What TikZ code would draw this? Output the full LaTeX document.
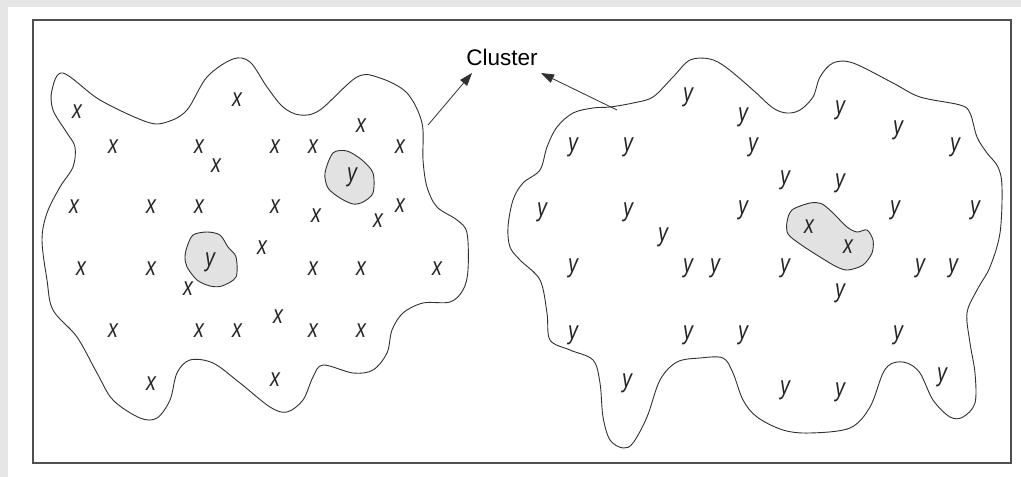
\documentclass[tikz,border=0pt]{standalone}
\usepackage{fontspec}
\setmainfont{Liberation Sans}
\newfontfamily\markfont[FakeStretch=0.76]{Liberation Sans}
\usetikzlibrary{arrows.meta}
\definecolor{pagegray}{HTML}{E6E6E6}
\definecolor{framegray}{HTML}{505050}
\definecolor{inkgray}{HTML}{303030}
\definecolor{blobfill}{HTML}{E2E2E2}
\tikzset{
  outline/.style={draw=inkgray, line width=0.9pt},
  island/.style={draw=inkgray, line width=0.9pt, fill=blobfill},
  member/.style={inner sep=0pt, text=black!85, font=\markfont\itshape\fontsize{26}{26}\selectfont},
  label/.style={inner sep=0pt, font=\fontsize{22.5}{22.5}\selectfont},
  pointer/.style={draw=inkgray, line width=0.8pt, -{Triangle[length=13pt,width=9pt]}}
}
\begin{document}
\begin{tikzpicture}[x=1pt,y=-1pt]
\useasboundingbox (0,0) rectangle (1021,477);
% page background and frame
\fill[pagegray] (0,0) rectangle (1021,477);
\fill[white] (8,7) rectangle (1021,477);
\draw[framegray, line width=2pt] (33,20) rectangle (1011,463);

% left cluster
\draw[outline] plot[smooth cycle, tension=0.55] coordinates {
 (52,90) (63,73) (100,100) (147,122) (167,122) (187,110) (207,77) (233,59)
 (250,62) (267,87) (283,107) (300,115) (320,110) (357,77) (380,78) (407,93)
 (422,123) (423,160) (427,187) (437,207) (457,220) (467,233) (468,270)
 (463,290) (450,302) (423,303) (403,313) (392,330) (387,353) (373,370)
 (353,373) (323,365) (313,377) (303,400) (287,412) (270,407) (240,383)
 (213,363) (190,360) (177,373) (170,400) (157,418) (140,418) (113,400)
 (97,373) (77,337) (53,310) (47,280) (42,240) (47,213) (60,187) (73,167)
 (75,147) (67,133) (53,110)};

% islands inside the left cluster
\draw[island] plot[smooth cycle, tension=0.5] coordinates {
 (325,173) (333,153) (347,151) (362,160) (373,173) (373,193) (363,202)
 (353,204) (340,198) (328,188)};
\draw[island] plot[smooth cycle, tension=0.5] coordinates {
 (187,247) (193,235) (207,232) (220,235) (228,247) (236,257) (236,277)
 (222,286) (210,286) (197,280) (187,267) (185,257)};

% right cluster
\draw[outline] plot[smooth cycle, tension=0.55] coordinates {
 (593,108) (610,107) (633,103) (653,97) (673,77) (690,60) (710,59) (727,68)
 (753,90) (773,108) (787,113) (800,110) (813,97) (820,77) (833,63) (853,63)
 (893,83) (920,97) (960,105) (970,113) (977,137) (987,153) (998,167)
 (1002,187) (1000,233) (990,267) (977,290) (967,313) (970,343) (975,373)
 (975,403) (963,417) (950,417) (933,400) (920,373) (907,363) (893,363)
 (883,373) (870,407) (850,428) (810,433) (783,430) (757,417) (743,400)
 (733,373) (723,358) (700,358) (677,362) (660,380) (647,417) (633,443)
 (623,448) (610,440) (603,417) (600,383) (593,360) (570,350) (550,340)
 (547,313) (540,280) (520,260) (510,247) (508,227) (513,200) (523,183)
 (540,170) (547,147) (557,127) (573,113)};

% island inside the right cluster
\draw[island] plot[smooth cycle, tension=0.5] coordinates {
 (787,222) (792,210) (810,203) (822,204) (833,213) (847,227) (857,232)
 (867,230) (873,240) (872,253) (863,265) (848,270) (837,267) (820,257)
 (800,244) (788,234)};

% members of the left cluster
\foreach \p [count=\i] in {(77,112),(237,100),(113,147),(199,147),(216,166),
  (275,147),(313,147),(361,126),(400,147),(74,207),(151,207),(199,207),
  (275,207),(316,216),(378,221),(400,206),(262,248),(81,269),(151,269),
  (188,289),(313,269),(361,269),(437,269),(113,331),(199,331),(237,331),
  (278,317),(313,331),(361,331),(151,384),(275,380)}
  \node[member] (lx\i) at \p {x};
\node[member] (ly1) at (352,177) {y};
\node[member] (ly2) at (210,262) {y};

% members of the right cluster
\foreach \p [count=\i] in {(688,97),(743,117),(840,110),(898,130),(573,147),
  (628,147),(753,147),(955,147),(785,180),(840,183),(542,212),(628,212),
  (743,210),(895,210),(975,210),(663,237),(573,268),(688,268),(715,268),
  (785,268),(920,268),(953,268),(840,293),(573,335),(688,335),(743,335),
  (898,335),(942,377),(627,383),(785,390),(840,392)}
  \node[member] (ry\i) at \p {y};
\node[member] (rx1) at (809,227) {x};
\node[member] (rx2) at (848,247) {x};

% label and pointers
\node[label] (cluster) at (502,57) {Cluster};
\coordinate (lfoot) at (428,125);
\coordinate (rfoot) at (617,110);
\coordinate (ltip) at (472,73);
\coordinate (rtip) at (541,73);
\draw[pointer] (lfoot) -- (ltip);
\draw[pointer] (rfoot) -- (rtip);
\end{tikzpicture}
\end{document}
